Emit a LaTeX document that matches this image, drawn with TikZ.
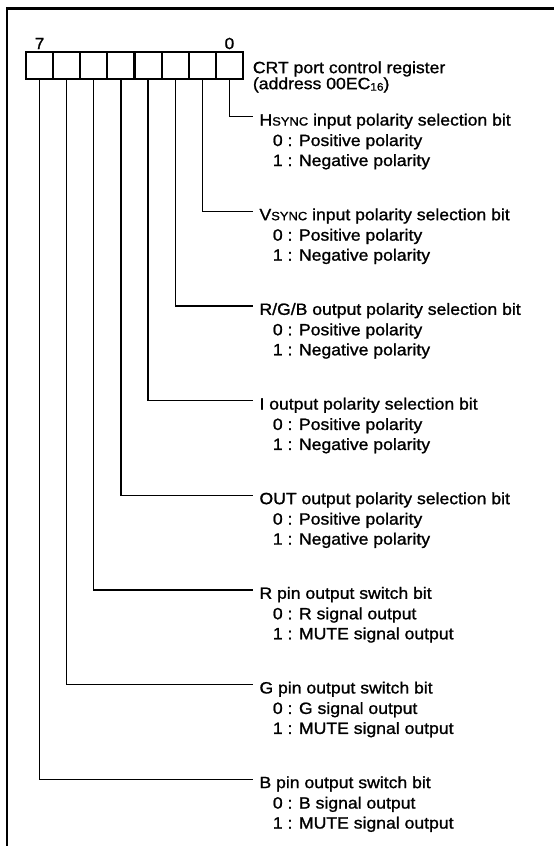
\documentclass[tikz,border=0pt]{standalone}
\usepackage{fontspec}
\setmainfont{Liberation Sans}[FakeStretch=1.08,FakeBold=1.2]
\newcommand\sctext[1]{{\fontsize{12}{12}\selectfont #1}}
\newcommand\subnum[1]{\raisebox{-1.5pt}{\fontsize{11}{11}\selectfont #1}}
\begin{document}
\begin{tikzpicture}[x=1pt,y=-1pt,
  frame/.style={line width=2.3pt},
  cell/.style={draw, line width=2.2pt, minimum width=27.125pt, minimum height=27pt, inner sep=0pt, outer sep=0pt},
  wire/.style={line width=1.3pt},
  title/.style={anchor=west, inner xsep=6.8pt, inner ysep=0pt, text height=17.7pt, text depth=0pt, font=\fontsize{16.3}{19}\selectfont},
  opt/.style={anchor=base west, inner sep=0pt, font=\fontsize{16.3}{19}\selectfont},
  bitnum/.style={inner sep=0pt, font=\fontsize{16}{18}\selectfont}
]
\useasboundingbox (0,0) rectangle (554,846);
\draw[frame] (6.7,846) -- (6.7,8.5) -- (554,8.5);
% register cells
\foreach \i in {0,...,7}
  \node[cell] (b\i) at ({26+27.125*(7-\i)+13.5625}, 65.8) {};
\node[bitnum] (n7) at ({26+13.5625}, 43.5) {7};
\node[bitnum] (n0) at ({26+27.125*7+13.5625}, 43.5) {0};
\node[opt] (reg1) at (252.7, 73.15) {CRT port control register};
\node[opt] (reg2) at (252.7, 89.15) {(address 00EC\subnum{16})};
% bit descriptions
\foreach \i/\t/\a/\b in {
  0/{H\sctext{SYNC} input polarity selection bit}/{0 : Positive polarity}/{1 : Negative polarity},
  1/{V\sctext{SYNC} input polarity selection bit}/{0 : Positive polarity}/{1 : Negative polarity},
  2/{R/G/B output polarity selection bit}/{0 : Positive polarity}/{1 : Negative polarity},
  3/{I output polarity selection bit}/{0 : Positive polarity}/{1 : Negative polarity},
  4/{OUT output polarity selection bit}/{0 : Positive polarity}/{1 : Negative polarity},
  5/{R pin output switch bit}/{0 : R signal output}/{1 : MUTE signal output},
  6/{G pin output switch bit}/{0 : G signal output}/{1 : MUTE signal output},
  7/{B pin output switch bit}/{0 : B signal output}/{1 : MUTE signal output}}
{
  \pgfmathsetmacro\yk{116.7+94.65*\i}
  \node[title] (t\i) at (252.5, \yk) {\t};
  \node[opt] (z\i) at (272.7, {\yk+29.3}) {\a};
  \node[opt] (o\i) at (272.7, {\yk+49.3}) {\b};
  \draw[wire] (b\i.south) |- (t\i.west);
}
\end{tikzpicture}
\end{document}
